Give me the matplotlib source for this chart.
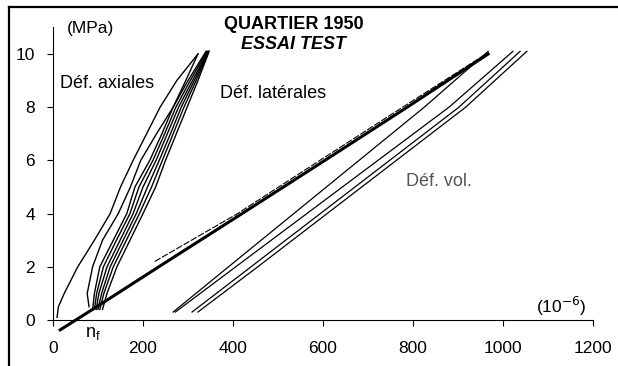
import matplotlib.pyplot as plt
from matplotlib.lines import Line2D

plt.rcParams['font.family'] = ['Liberation Sans', 'DejaVu Sans']

# stress levels (MPa) shared by the cycle curves
stress_cyc = [0.4, 1, 2, 3, 4, 5, 6, 7, 8, 9, 10.1]

# axial strain, first cycle (10^-6)
ax1_load_s = [0.1, 0.5, 1, 2, 3, 4, 5, 6, 7, 8, 9, 10]
ax1_load = [9, 12, 25, 55, 92, 127, 150, 178, 208, 238, 275, 322]
ax1_unload_s = [0.5, 1, 2, 3, 4, 5, 6, 7, 8, 9, 10]
ax1_unload = [80, 76, 88, 110, 145, 172, 195, 230, 267, 295, 322]

# following cycles (bundle)
cyc2 = [88, 92, 104, 134, 164, 182, 215, 242, 267, 300, 340]
cyc3 = [92, 97, 112, 141, 171, 191, 222, 248, 273, 305, 342]
cyc4 = [96, 102, 120, 149, 178, 200, 229, 254, 279, 310, 344]
cyc5 = [100, 108, 127, 156, 185, 210, 236, 261, 285, 314, 345]
cyc6 = [104, 113, 134, 163, 192, 219, 243, 267, 291, 318, 346]
cyc7 = [110, 120, 142, 171, 200, 228, 250, 274, 298, 322, 347]

# lateral (thick straight line) and its companion
lat_s = [-0.37, 0.4, 2, 4, 6, 8, 10]
lat_main = [16, 88, 235, 420, 604, 787, 967]
lat_comp_s = [2.2, 4, 6, 8, 10]
lat_comp = [226, 410, 593, 777, 962]

# volumetric strain curves
vol_s = [0.3, 2, 4, 6, 8, 10.1]
vol1 = [267, 390, 535, 680, 825, 967]
vol2 = [272, 406, 564, 722, 880, 1022]
vol3 = [309, 440, 594, 748, 902, 1038]
vol4 = [322, 455, 609, 763, 917, 1053]

fig = plt.figure(figsize=(6.18, 3.66), dpi=100)
ax = fig.add_axes([39.5 / 618, 24.7 / 366, 562.5 / 618, 313.9 / 366])
ax.set_xlim(-30, 1220)
ax.set_ylim(-0.8, 11)

k = dict(color='black', lw=1.0)
ax.plot(ax1_load, ax1_load_s, **k)
ax.plot(ax1_unload, ax1_unload_s, **k)
for c in [cyc2, cyc3, cyc4, cyc5, cyc6, cyc7]:
    ax.plot(c, stress_cyc, **k)

ax.plot(lat_main, lat_s, color='black', lw=2.2)
ax.plot(lat_comp, lat_comp_s, color='black', lw=0.8, ls=(0, (6, 1.5)))

for v in [vol1, vol2, vol3, vol4]:
    ax.plot(v, vol_s, color='black', lw=0.9)

for s in ['top', 'right']:
    ax.spines[s].set_visible(False)
ax.spines['left'].set_position(('data', 0))
ax.spines['bottom'].set_position(('data', 0))
ax.spines['left'].set_bounds(0, 11)
ax.spines['bottom'].set_bounds(0, 1200)
ax.spines['left'].set_linewidth(0.8)
ax.spines['bottom'].set_linewidth(0.8)

ax.set_xticks(range(0, 1201, 200))
ax.set_yticks(range(0, 11, 2))
ax.tick_params(axis='x', length=4, width=0.8, pad=11, labelsize=12.5)
ax.tick_params(axis='y', length=4, width=0.8, pad=9, labelsize=12.5)

ax.text(30, 10.95, '(MPa)', fontsize=12.5, va='center', ha='left')
ax.text(1130, 0.5, r'(10$^{-6}$)', fontsize=12.5, va='center', ha='center')
ax.text(535, 11.1, 'QUARTIER 1950', fontsize=13, weight='bold', ha='center', va='center')
ax.text(535, 10.35, 'ESSAI TEST', fontsize=13, weight='bold', style='italic', ha='center', va='center')
ax.text(15, 8.9, 'Déf. axiales', fontsize=13, va='center')
ax.text(370, 8.5, 'Déf. latérales', fontsize=13, va='center')
ax.text(785, 5.2, 'Déf. vol.', fontsize=13, va='center', color='#555555')
ax.text(88, -0.5, r'n$_\mathregular{f}$', fontsize=13, ha='center', va='center')

# outer frame of the scanned figure
fig.add_artist(Line2D([8.5 / 618, 8.5 / 618], [0, 1 - 6.5 / 366], color='black', lw=1.6, transform=fig.transFigure))
fig.add_artist(Line2D([8.5 / 618, 1], [1 - 6.5 / 366, 1 - 6.5 / 366], color='black', lw=1.6, transform=fig.transFigure))

fig.savefig('out.png', dpi=100)
